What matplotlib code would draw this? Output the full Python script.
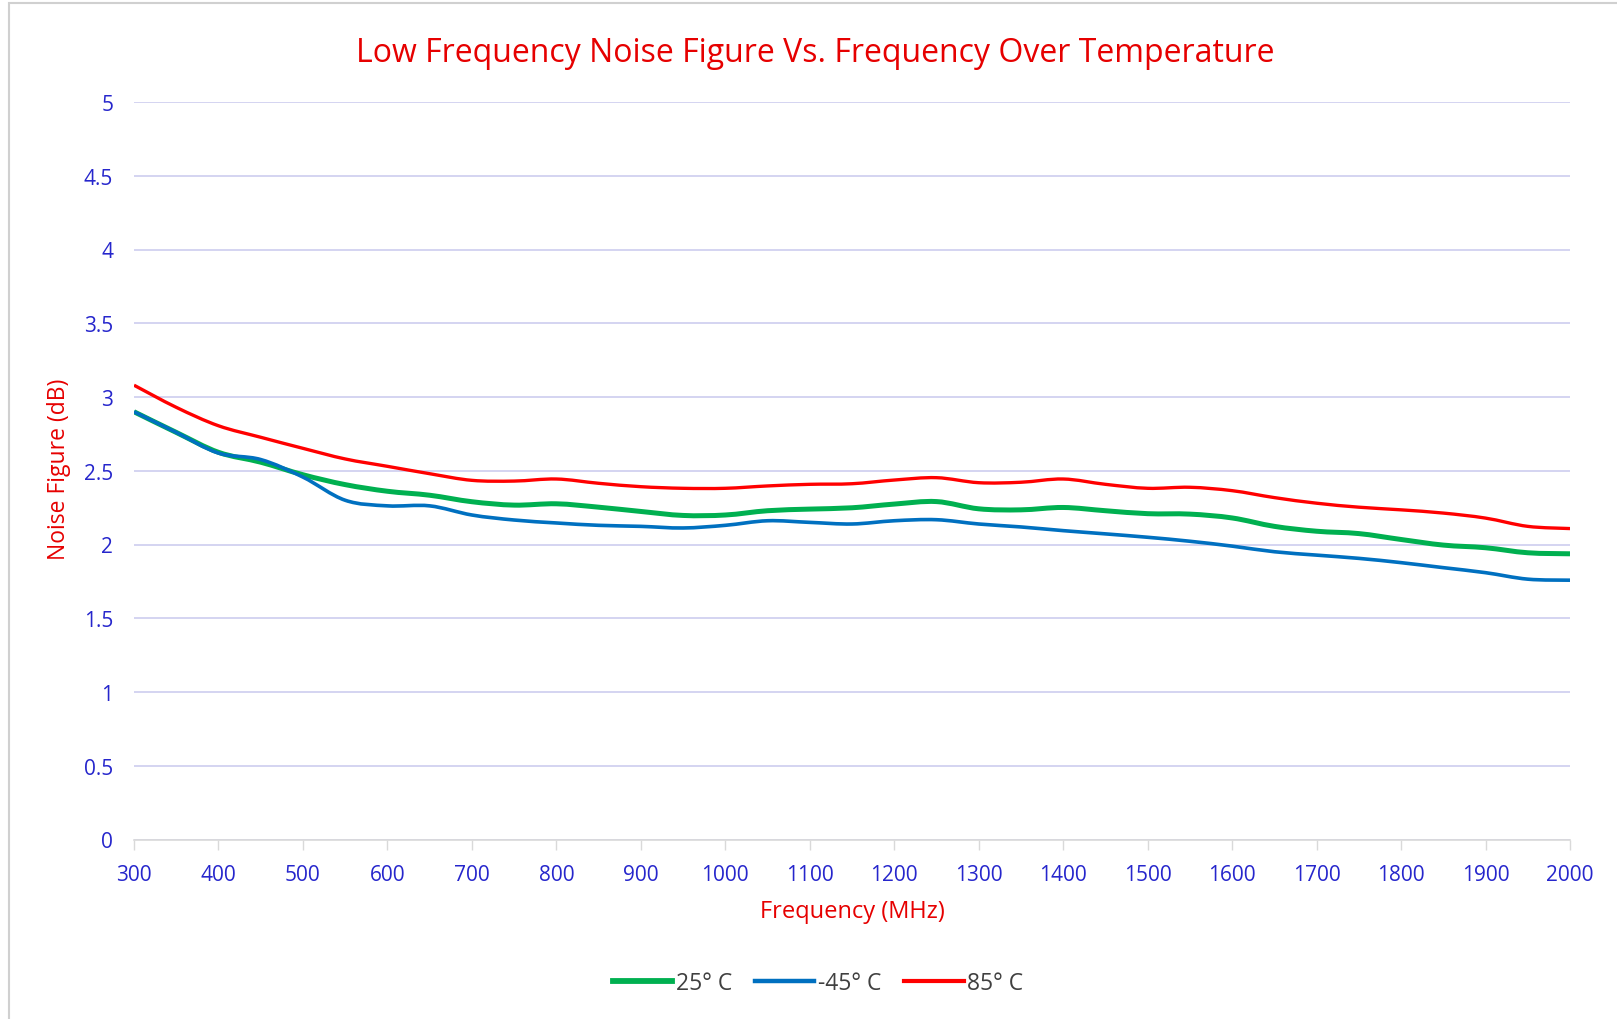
import matplotlib
matplotlib.use("Agg")
import matplotlib.pyplot as plt
from matplotlib.patches import Rectangle, PathPatch
from matplotlib.path import Path
from matplotlib.lines import Line2D

freq = [300, 350, 400, 450, 500, 550, 600, 650, 700, 750, 800, 850, 900, 950,
        1000, 1050, 1100, 1150, 1200, 1250, 1300, 1350, 1400, 1450, 1500, 1550,
        1600, 1650, 1700, 1750, 1800, 1850, 1900, 1950, 2000]

nf_25 = [2.90, 2.76, 2.625, 2.558, 2.473, 2.406, 2.361, 2.334, 2.29, 2.267,
         2.276, 2.253, 2.224, 2.197, 2.20, 2.229, 2.24, 2.249, 2.274, 2.291,
         2.242, 2.235, 2.251, 2.229, 2.209, 2.206, 2.18, 2.123, 2.09, 2.074,
         2.034, 1.996, 1.978, 1.944, 1.937]

nf_m45 = [2.90, 2.76, 2.62, 2.576, 2.457, 2.30, 2.262, 2.262, 2.20, 2.166,
          2.146, 2.13, 2.123, 2.112, 2.13, 2.161, 2.15, 2.139, 2.161, 2.168,
          2.139, 2.119, 2.094, 2.072, 2.049, 2.022, 1.989, 1.951, 1.928, 1.906,
          1.877, 1.843, 1.809, 1.765, 1.758]

nf_85 = [3.08, 2.93, 2.805, 2.727, 2.652, 2.58, 2.53, 2.48, 2.435, 2.43,
         2.444, 2.415, 2.392, 2.381, 2.381, 2.397, 2.408, 2.412, 2.437, 2.453,
         2.419, 2.422, 2.444, 2.408, 2.381, 2.388, 2.365, 2.318, 2.28, 2.253,
         2.235, 2.213, 2.179, 2.123, 2.108]

series_labels = ["25° C", "-45° C", "85° C"]
x_ticks = list(range(300, 2001, 100))
y_ticks = [0, 0.5, 1, 1.5, 2, 2.5, 3, 3.5, 4, 4.5, 5]
y_ticklabels = ["0", "0.5", "1", "1.5", "2", "2.5", "3", "3.5", "4", "4.5", "5"]

plt.rcParams['font.family'] = ['Open Sans', 'DejaVu Sans']


def smooth_path(xs, ys):
    """Excel-style smoothed line: Catmull-Rom rendered as cubic Beziers."""
    n = len(xs)
    verts = [(xs[0], ys[0])]
    codes = [Path.MOVETO]
    for i in range(n - 1):
        i0 = max(i - 1, 0)
        i3 = min(i + 2, n - 1)
        c1 = (xs[i] + (xs[i + 1] - xs[i0]) / 6.0,
              ys[i] + (ys[i + 1] - ys[i0]) / 6.0)
        c2 = (xs[i + 1] - (xs[i3] - xs[i]) / 6.0,
              ys[i + 1] - (ys[i3] - ys[i]) / 6.0)
        verts += [c1, c2, (xs[i + 1], ys[i + 1])]
        codes += [Path.CURVE4] * 3
    return Path(verts, codes)


W, H = 1617, 1020
fig = plt.figure(figsize=(W / 100, H / 100), dpi=100)
fig.patch.set_facecolor('white')

fig.patches.append(Rectangle((9 / W, -0.01), 1.0, 1 - 4 / H + 0.01,
                             transform=fig.transFigure, fill=False,
                             edgecolor='#d0d0d0', linewidth=1.5))

ax = fig.add_axes([134 / W, 1 - 840.5 / H, 1436 / W, 737.5 / H])

blue_txt = '#2626cc'
red_txt = '#e60000'
grid_col = '#c9c9ee'

colors = ['#00b050', '#0070c0', '#ff0000']
widths = [3.6, 2.6, 2.4]
handles = []
for k, ys in enumerate([nf_25, nf_m45, nf_85]):
    p = PathPatch(smooth_path(freq, ys), facecolor='none',
                  edgecolor=colors[k], lw=widths[k], capstyle='butt',
                  joinstyle='round', zorder=3 + k)
    ax.add_patch(p)
    handles.append(Line2D([], [], color=colors[k], lw=widths[k] + 0.6,
                          label=series_labels[k]))

ax.set_xlim(300, 2000)
ax.set_ylim(0, 5)
ax.set_xticks(x_ticks)
ax.set_xticklabels([str(t) for t in x_ticks])
ax.set_yticks(y_ticks)
ax.set_yticklabels(y_ticklabels)

for s in ['top', 'right', 'left']:
    ax.spines[s].set_visible(False)
ax.spines['bottom'].set_color('#d9d9d9')
ax.spines['bottom'].set_linewidth(1.2)

ax.grid(axis='y', color=grid_col, linewidth=1.1)
ax.set_axisbelow(True)

ax.tick_params(axis='x', colors='#d9d9d9', length=7, width=1.0,
               labelcolor=blue_txt, labelsize=15, pad=11)
ax.tick_params(axis='y', length=0, labelcolor=blue_txt, labelsize=15, pad=15)

fig.text(815 / W, 1 - 53 / H,
         "Low Frequency Noise Figure Vs. Frequency Over Temperature",
         ha='center', va='center', color=red_txt, fontsize=23)
fig.text(852 / W, 1 - 912 / H, "Frequency (MHz)", ha='center', va='center',
         color=red_txt, fontsize=17)
fig.text(59 / W, 1 - 469 / H, "Noise Figure (dB)", ha='center', va='center',
         rotation=90, color=red_txt, fontsize=16.5)

leg = fig.legend(handles=handles, loc='center',
                 bbox_to_anchor=(818 / W, 1 - 984 / H), ncol=3,
                 frameon=False, fontsize=16.5, handlelength=2.6,
                 handletextpad=0.15, columnspacing=1.0)
for t in leg.get_texts():
    t.set_color('#404040')

fig.savefig("out.png", dpi=100, facecolor='white')
